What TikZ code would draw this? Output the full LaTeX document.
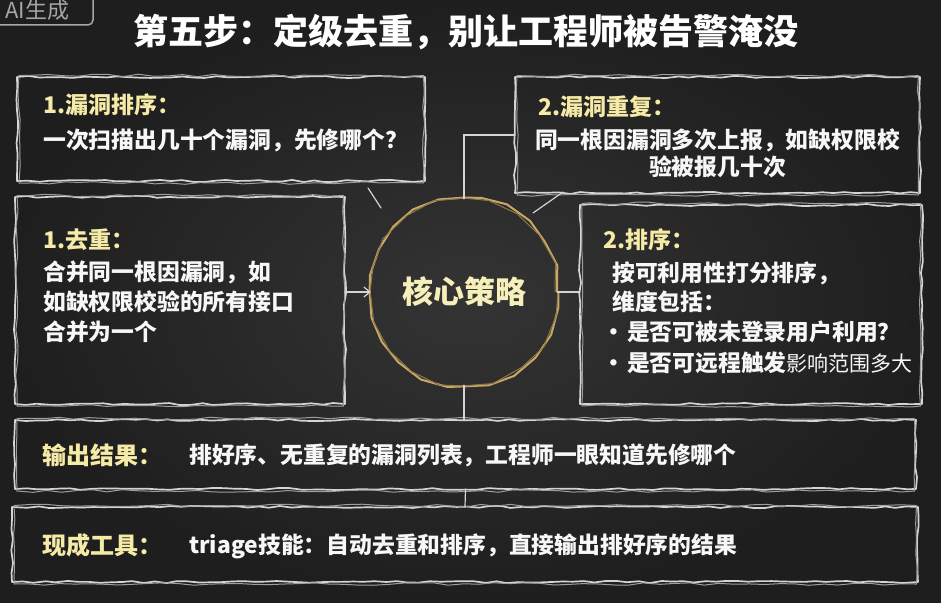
\documentclass[tikz,border=0pt]{standalone}
\usepackage{fontspec}
\usetikzlibrary{decorations.pathmorphing,arrows.meta,calc}
\newfontfamily\cjk{Noto Sans CJK SC}
\definecolor{bgin}{HTML}{343434}
\definecolor{bgout}{HTML}{1E1E1E}
\definecolor{chalkc}{HTML}{D4D4D4}
\definecolor{chalkd}{HTML}{9E9E9E}
\definecolor{headc}{HTML}{F5EBA6}
\definecolor{txtc}{HTML}{F7F7F7}
\definecolor{tanc}{HTML}{C9A866}
\definecolor{corec}{HTML}{F6EFBA}
\definecolor{badgec}{HTML}{A6A6A6}
\tikzset{
  chalk/.style={draw=chalkc, line width=1.7pt, line join=round, line cap=round,
    decorate, decoration={random steps, segment length=11pt, amplitude=1.1pt}},
  chalkb/.style={draw=chalkd, line width=1pt, line join=round, line cap=round,
    decorate, decoration={random steps, segment length=15pt, amplitude=1.3pt}},
  boxn/.style={inner sep=0pt, outer sep=0pt, rectangle},
  conn/.style={draw=chalkc, line width=1.2pt, line cap=round},
  head/.style={font=\cjk\bfseries\fontsize{23}{26}\selectfont, text=headc, anchor=base west, inner sep=0pt},
  body/.style={font=\cjk\bfseries\fontsize{22.8}{26}\selectfont, text=txtc, anchor=base west, inner sep=0pt},
  lab/.style={font=\cjk\bfseries\fontsize{24}{28}\selectfont, text=headc, anchor=base west, inner sep=0pt},
}
\newcommand\chalkrect[1]{%
  \draw[chalk] (#1.north west) rectangle (#1.south east);
  \draw[chalkb] ([shift={(2pt,1.5pt)}]#1.north west) rectangle ([shift={(-1.5pt,-2pt)}]#1.south east);}
\newcommand\bul{\makebox[17pt][l]{\hspace{-7.5pt}·}}
\begin{document}
\begin{tikzpicture}[x=1pt,y=-1pt]
\pgfmathsetseed{7}
\useasboundingbox (0,0) rectangle (941,602);
\shade[inner color=bgin, outer color=bgout] (0,0) rectangle (941,602);
% badge
\draw[badgec, line width=1.5pt, rounded corners=5pt] (-6,-12) rectangle (93,25);
\node[font=\cjk\fontsize{22}{24}\selectfont, text=badgec, inner sep=0pt, anchor=base west] (badge) at (5,19) {AI生成};
% title
\node[font=\cjk\bfseries\fontsize{35}{40}\selectfont, text=white, inner sep=0pt, anchor=base] (title) at (466,45) {第五步：定级去重，别让工程师被告警淹没};
% boxes
\node[boxn, minimum width=408pt, minimum height=104pt] (tl) at (221,129) {};
\node[boxn, minimum width=405pt, minimum height=116pt] (tr) at (717.5,135) {};
\node[boxn, minimum width=330pt, minimum height=207pt] (ml) at (180,300.5) {};
\node[boxn, minimum width=342pt, minimum height=199pt] (mr) at (751,304.5) {};
\node[boxn, minimum width=901pt, minimum height=69pt] (out) at (465.5,454.5) {};
\node[boxn, minimum width=906pt, minimum height=75pt] (tool) at (465,544.5) {};
\chalkrect{tl}
\chalkrect{tr}
\chalkrect{ml}
\chalkrect{mr}
\chalkrect{out}
\chalkrect{tool}
% core circle
\node[circle, minimum size=186pt, inner sep=0pt, font=\cjk\bfseries\fontsize{31}{34}\selectfont, text=corec] (core) at (464,292) {核心策略};
\draw[tanc, line width=2pt, line join=round, decorate, decoration={random steps, segment length=26pt, amplitude=1.5pt}] (core.center) circle[radius=93pt];
\draw[tanc!70!black, line width=1pt, decorate, decoration={random steps, segment length=30pt, amplitude=1.5pt}] (core.center) circle[radius=91pt];
% connectors
\coordinate (tlstubA) at (368,188);
\coordinate (tlstubB) at (381,208);
\coordinate (trstubA) at (533,213);
\coordinate (trstubB) at (563,192);
\draw[conn] (tlstubA) -- (tlstubB);
\draw[conn] (trstubA) -- (trstubB);
\draw[conn] (core.north) |- (tr.west);
\draw[conn, -{Straight Barb[length=6pt,width=10pt]}] (ml.east |- core.west) -- (core.west);
\draw[conn] (core.east) -- (core.east -| mr.west);
\draw[conn] (core.south) -- (core.south |- out.north);
\draw[conn] (out.south) -- (tool.north);
% TL text
\node[head] (tlh) at (43,113) {1.漏洞排序：};
\node[body] (tlb) at (43,148) {一次扫描出几十个漏洞，先修哪个？};
% TR text
\node[head] (trh) at (538,115) {2.漏洞重复：};
\node[body, anchor=base] (trb1) at (717.5,148) {同一根因漏洞多次上报，如缺权限校};
\node[body, anchor=base] (trb2) at (717.5,175) {验被报几十次};
% ML text
\node[head] (mlh) at (43,248) {1.去重：};
\node[body] (mlb1) at (43,280) {合并同一根因漏洞，如};
\node[body] (mlb2) at (43,310) {如缺权限校验的所有接口};
\node[body] (mlb3) at (43,340) {合并为一个};
% MR text
\node[head] (mrh) at (603,248) {2.排序：};
\node[body] (mrb1) at (612,281) {按可利用性打分排序，};
\node[body] (mrb2) at (612,310) {维度包括：};
\node[body] (mrb3) at (610,340) {\bul 是否可被未登录用户利用？};
\node[body] (mrb4) at (610,371) {\bul 是否可远程触发{\mdseries\fontsize{21}{24}\selectfont 影响范围多大}};
% bottom rows
\node[lab] (outl) at (42,464) {输出结果：};
\node[body] (outb) at (189,463) {排好序、无重复的漏洞列表，工程师一眼知道先修哪个};
\node[lab] (tooll) at (42,554) {现成工具：};
\node[body] (toolb) at (189,553) {triage技能：自动去重和排序，直接输出排好序的结果};
\end{tikzpicture}
\end{document}
